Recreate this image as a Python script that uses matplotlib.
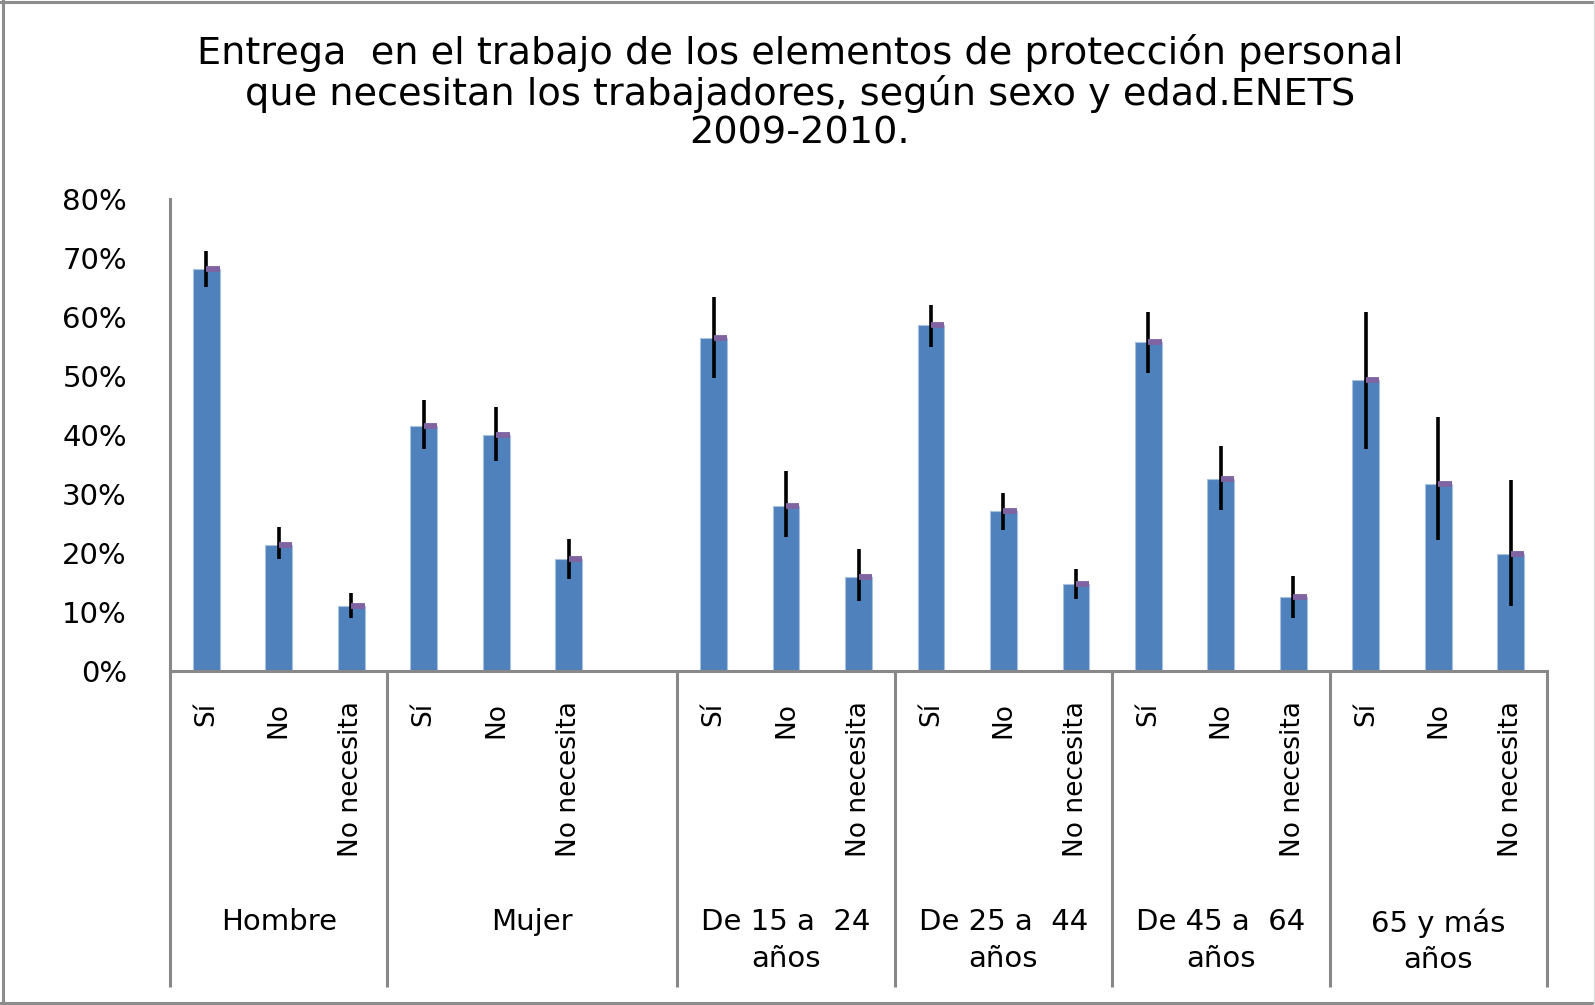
import numpy as np
import matplotlib
matplotlib.use("Agg")
import matplotlib.pyplot as plt
from matplotlib.lines import Line2D
from matplotlib.ticker import FuncFormatter

plt.rcParams['font.family'] = ['DejaVu Sans']

# ---------------- data ----------------
title = ("Entrega  en el trabajo de los elementos de protección personal\n"
         "que necesitan los trabajadores, según sexo y edad.ENETS\n"
         "2009-2010.")

group_labels = ["Hombre", "Mujer", "De 15 a  24\naños", "De 25 a  44\naños",
                "De 45 a  64\naños", "65 y más\naños"]
group_sizes = [3, 4, 3, 3, 3, 3]   # Mujer includes one blank category

categories = ["Sí", "No", "No necesita",
              "Sí", "No", "No necesita", "",
              "Sí", "No", "No necesita",
              "Sí", "No", "No necesita",
              "Sí", "No", "No necesita",
              "Sí", "No", "No necesita"]

pct = [68.1, 21.4, 11.0,
       41.6, 40.0, 18.9, np.nan,
       56.5, 28.0, 16.0,
       58.7, 27.2, 14.7,
       55.7, 32.6, 12.5,
       49.4, 31.7, 19.8]

ci_low = [65.0, 19.0, 9.0,
          37.7, 35.6, 15.6, np.nan,
          49.7, 22.7, 11.9,
          54.9, 23.9, 12.2,
          50.5, 27.3, 9.0,
          37.7, 22.2, 11.1]

ci_high = [71.2, 24.4, 13.2,
           45.9, 44.7, 22.4, np.nan,
           63.4, 33.9, 20.7,
           62.0, 30.2, 17.3,
           60.8, 38.1, 16.1,
           60.8, 43.1, 32.4]

yticks = [0, 10, 20, 30, 40, 50, 60, 70, 80]

# ---------------- plot ----------------
W, H = 1595, 1005
fig = plt.figure(figsize=(W / 100, H / 100), dpi=100)
ax = fig.add_axes([170 / W, 1 - 671 / H, (1547 - 170) / W, (671 - 199) / H])

x = np.arange(len(categories))
vals = np.array(pct) / 100
lo = np.array(ci_low) / 100
hi = np.array(ci_high) / 100
bw = 0.37

ax.bar(x, vals, width=bw, color="#4F81BD", edgecolor="#A9C2E0", linewidth=0.8, zorder=2)
mask = ~np.isnan(vals)
ax.vlines(x[mask], lo[mask], hi[mask], color="black", linewidth=2.6, zorder=3)
ax.hlines(vals[mask], x[mask], x[mask] + bw / 2, color="#8064A2", linewidth=4.2, zorder=4)

ax.set_xlim(-0.5, len(categories) - 0.5)
ax.set_ylim(0, 0.8)
ax.set_yticks(np.array(yticks) / 100)
ax.yaxis.set_major_formatter(FuncFormatter(lambda v, p: f"{v * 100:.0f}%"))
ax.tick_params(axis="y", length=0, pad=31, labelsize=21)

ax.set_xticks(x)
ax.set_xticklabels(categories, rotation=90, fontsize=19)
ax.tick_params(axis="x", length=0, pad=22)

for s in ["top", "right"]:
    ax.spines[s].set_visible(False)
for s in ["left", "bottom"]:
    ax.spines[s].set_color("#888888")
    ax.spines[s].set_linewidth(2.2)

# group dividers and group labels
trans = ax.get_xaxis_transform()
bounds = np.concatenate([[0], np.cumsum(group_sizes)]) - 0.5
y_div = -(987 - 671) / (671 - 199)
for b in bounds:
    ax.plot([b, b], [0, y_div], transform=trans, color="#888888",
            linewidth=2.2, clip_on=False, solid_capstyle="butt")
y_lab = -(908 - 671) / (671 - 199)
for i, g in enumerate(group_labels):
    cx = (bounds[i] + bounds[i + 1]) / 2
    ax.text(cx, y_lab, g, transform=trans, ha="center", va="top",
            fontsize=21, linespacing=1.4, multialignment="center")

# title
fig.text(800 / W, 1 - 93 / H, title, ha="center", va="center",
         fontsize=27.5, linespacing=1.1, multialignment="center")

# outer border
bc = "#8c8c8c"
fig.add_artist(Line2D([2.5 / W, 2.5 / W], [0, 1], transform=fig.transFigure, color=bc, lw=2.2))
fig.add_artist(Line2D([0, 1], [1 - 2 / H, 1 - 2 / H], transform=fig.transFigure, color=bc, lw=2.2))
fig.add_artist(Line2D([0, 1], [1 - 1003 / H, 1 - 1003 / H], transform=fig.transFigure, color=bc, lw=2.2))
fig.add_artist(Line2D([1 - 1 / W, 1 - 1 / W], [0, 1], transform=fig.transFigure, color="#dddddd", lw=1))

fig.savefig("out.png", dpi=100, facecolor="white")
